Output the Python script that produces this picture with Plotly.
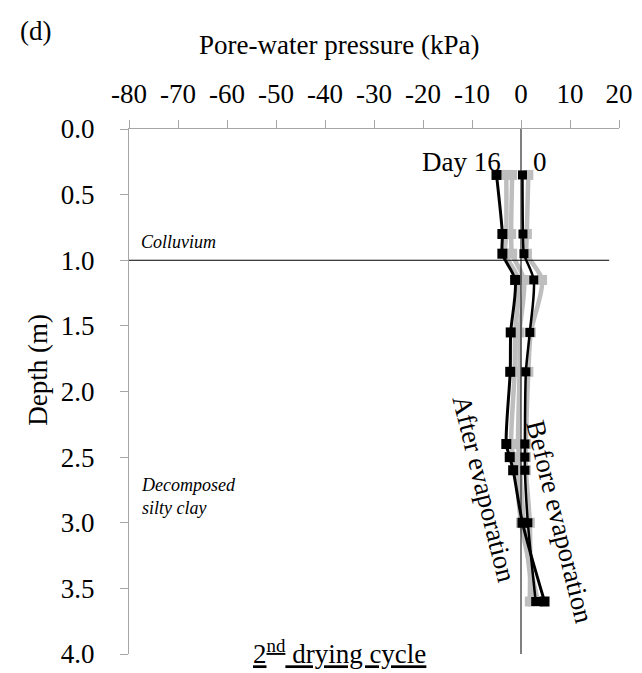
import plotly.graph_objects as go

depth = [0.35, 0.8, 0.95, 1.15, 1.55, 1.85, 2.4, 2.5, 2.6, 3.0, 3.6]

pwp_day0 = [0.3, 0.4, 0.6, 2.6, 1.8, 1.0, 0.8, 0.8, 0.8, 1.4, 3.0]
pwp_day4 = [1.5, 1.2, 1.2, 4.3, 2.0, 1.5, 1.0, 1.0, 1.0, 1.8, 1.8]
pwp_day8 = [-1.8, -2.0, -1.8, 0.6, -0.3, -0.3, -0.6, -0.4, -0.2, 0.6, 2.5]
pwp_day12 = [-3.0, -3.0, -3.2, -0.5, -1.2, -1.3, -2.0, -1.5, -1.0, 0.0, 3.5]
pwp_day16 = [-5.0, -3.8, -3.8, -1.2, -2.1, -2.2, -3.0, -2.3, -1.6, 0.3, 4.8]

x_ticks = list(range(-80, 21, 10))
y_ticks = [0.0, 0.5, 1.0, 1.5, 2.0, 2.5, 3.0, 3.5, 4.0]

FONT = "Liberation Serif, Times New Roman, DejaVu Serif, serif"
GRAY = "#BEBEBE"
W, H = 642, 673
ML, MR, MT, MB = 121, 31, 121, 20
FS = 27

fig = go.Figure()

for vals in [pwp_day4, pwp_day8, pwp_day12]:
    fig.add_trace(go.Scatter(
        x=vals, y=depth, mode="lines+markers",
        line=dict(color=GRAY, width=4.5, shape="spline", smoothing=0.8),
        marker=dict(symbol="square", size=10, color=GRAY),
        showlegend=False, hoverinfo="skip"))

fig.add_trace(go.Scatter(
    x=pwp_day0, y=depth, mode="lines+markers",
    line=dict(color="black", width=2.5, shape="spline", smoothing=0.8),
    marker=dict(symbol="square", size=9, color="black"),
    showlegend=False, hoverinfo="skip"))
fig.add_trace(go.Scatter(
    x=pwp_day16, y=depth, mode="lines+markers",
    line=dict(color="black", width=3, shape="spline", smoothing=0.8),
    marker=dict(symbol="square", size=10, color="black"),
    showlegend=False, hoverinfo="skip"))

# reference lines
fig.add_shape(type="line", x0=0, x1=0, y0=0, y1=4, xref="x", yref="y",
              line=dict(color="black", width=1))
fig.add_shape(type="line", x0=-80, x1=18, y0=1.0, y1=1.0, xref="x", yref="y",
              line=dict(color="black", width=1))

fig.update_xaxes(
    range=[-80, 20], side="top", tickvals=x_ticks, ticktext=[str(t) for t in x_ticks],
    showgrid=False, zeroline=False, showline=True, linecolor="#A6A6A6", linewidth=1,
    ticks="outside", ticklen=8, tickcolor="#A6A6A6", ticklabelstandoff=6,
    tickfont=dict(family=FONT, size=FS, color="black"))
fig.update_yaxes(
    range=[4, 0], tickvals=y_ticks, ticktext=[f"{t:.1f}" for t in y_ticks],
    showgrid=False, zeroline=False, showline=True, linecolor="#A6A6A6", linewidth=1,
    ticks="outside", ticklen=8, tickcolor="#A6A6A6", ticklabelstandoff=20,
    tickfont=dict(family=FONT, size=FS, color="black"))

fig.update_layout(
    width=W, height=H,
    margin=dict(l=ML, r=MR, t=MT, b=MB),
    plot_bgcolor="white", paper_bgcolor="white",
    font=dict(family=FONT, color="black"),
)

PW = W - ML - MR
PH = H - MT - MB


def px_ann(text, x, y, size, **kw):
    fig.add_annotation(text=text, x=(x - ML) / PW, y=(H - MB - y) / PH,
                       xref="paper", yref="paper", showarrow=False,
                       font=dict(family=FONT, size=size, color="black"),
                       xanchor="center", yanchor="middle", **kw)


px_ann("(d)", 27, 22, FS)
px_ann("Pore-water pressure (kPa)", 331, 36, FS)
px_ann("Depth (m)", 30, 365, FS, textangle=-90)
px_ann("<u>2<sup>nd</sup> drying cycle</u>", 331, 651, FS)
px_ann("After evaporation", 476, 486, FS, textangle=76)
px_ann("Before evaporation", 552, 519, FS, textangle=76)

fig.add_annotation(text="Day 16", x=-12.2, y=0.25, xref="x", yref="y", showarrow=False,
                   font=dict(family=FONT, size=FS, color="black"))
fig.add_annotation(text="0", x=3.9, y=0.25, xref="x", yref="y", showarrow=False,
                   font=dict(family=FONT, size=FS, color="black"))
fig.add_annotation(text="<i>Colluvium</i>", x=-78, y=0.86, xref="x", yref="y", showarrow=False,
                   xanchor="left", font=dict(family=FONT, size=18, color="black"))
fig.add_annotation(text="<i>Decomposed<br>silty clay</i>", x=-78, y=2.8, xref="x", yref="y",
                   showarrow=False, xanchor="left", align="left",
                   font=dict(family=FONT, size=18, color="black"))

fig.write_html("out.html")
